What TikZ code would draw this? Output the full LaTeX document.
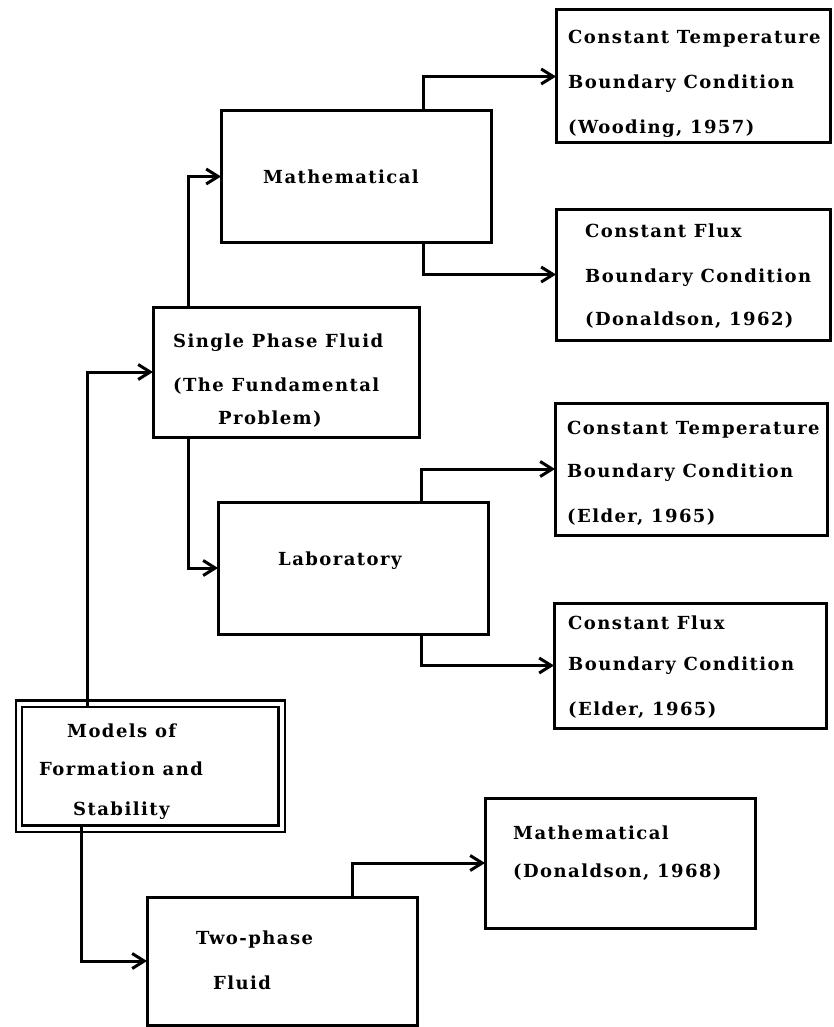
\documentclass[tikz,border=0pt]{standalone}
\usepackage{fontspec}
\newfontfamily\tf[LetterSpace=8]{DejaVu Serif}
\usetikzlibrary{arrows.meta}
\begin{document}
\begin{tikzpicture}[x=1pt,y=-1pt,
  box/.style={draw, line width=3pt, rectangle, inner sep=0pt, outer sep=0pt},
  dbox/.style={draw, line width=2.3pt, double, double distance=4pt, rectangle, inner sep=0pt, outer sep=0pt},
  txt/.style={anchor=base west, inner sep=0pt, font=\tf\bfseries\fontsize{18}{21}\selectfont},
  arr/.style={line width=3pt, -{Straight Barb[length=12pt,width=15pt,line width=3pt]}}]
\useasboundingbox (0,0) rectangle (834,1027);

% boxes
\node[box, minimum width=270pt, minimum height=131pt] (math) at (356,176.5) {};
\node[box, minimum width=274pt, minimum height=133pt] (ct1) at (693,76.5) {};
\node[box, minimum width=274pt, minimum height=131pt] (cf1) at (693,274.5) {};
\node[box, minimum width=266pt, minimum height=130pt] (spf) at (286,372) {};
\node[box, minimum width=272pt, minimum height=132pt] (ct2) at (691,469) {};
\node[box, minimum width=270pt, minimum height=132pt] (lab) at (353,568) {};
\node[box, minimum width=272pt, minimum height=125pt] (cf2) at (690,665.5) {};
\node[dbox, minimum width=262.5pt, minimum height=125pt] (models) at (150.25,766) {};
\node[box, minimum width=270pt, minimum height=128pt] (two) at (282,961) {};
\node[box, minimum width=270pt, minimum height=130pt] (m68) at (620,863) {};

% texts
\node[txt] (tmath) at (263,183) {Mathematical};
\node[txt] (tct1a) at (568,44) {Constant Temperature};
\node[txt] (tct1b) at (568,89) {Boundary Condition};
\node[txt] (tct1c) at (568,134) {(Wooding, 1957)};
\node[txt] (tcf1a) at (585,237) {Constant Flux};
\node[txt] (tcf1b) at (585,282) {Boundary Condition};
\node[txt] (tcf1c) at (585,325) {(Donaldson, 1962)};
\node[txt] (tspfa) at (173,347) {Single Phase Fluid};
\node[txt] (tspfb) at (173,391) {(The Fundamental};
\node[txt] (tspfc) at (218,424) {Problem)};
\node[txt] (tct2a) at (567,434) {Constant Temperature};
\node[txt] (tct2b) at (567,477) {Boundary Condition};
\node[txt] (tct2c) at (567,522) {(Elder, 1965)};
\node[txt] (tlab) at (278,565) {Laboratory};
\node[txt] (tcf2a) at (568,629) {Constant Flux};
\node[txt] (tcf2b) at (568,670) {Boundary Condition};
\node[txt] (tcf2c) at (568,715) {(Elder, 1965)};
\node[txt] (tmoda) at (67,737) {Models of};
\node[txt] (tmodb) at (39,775) {Formation and};
\node[txt] (tmodc) at (73,815) {Stability};
\node[txt] (ttwoa) at (196,944) {Two-phase};
\node[txt] (ttwob) at (213,989) {Fluid};
\node[txt] (tm68a) at (513,839) {Mathematical};
\node[txt] (tm68b) at (513,877) {(Donaldson, 1968)};

% connector columns
\coordinate (c1) at (188,0);
\coordinate (c2) at (423,0);
\coordinate (c3) at (421,0);
\coordinate (c4) at (87,0);
\coordinate (c5) at (81,0);
\coordinate (c6) at (352,0);

% connectors
\draw[arr] (spf.north -| c1) |- (math.west);
\draw[arr] (spf.south -| c1) |- (lab.west);
\draw[arr] (math.north -| c2) |- (ct1.west);
\draw[arr] (math.south -| c2) |- (cf1.west);
\draw[arr] (lab.north -| c3) |- (ct2.west);
\draw[arr] (lab.south -| c3) |- (cf2.west);
\draw[arr] ([yshift=-3.2pt]models.north -| c4) |- (spf.west);
\draw[arr] ([yshift=3.2pt]models.south -| c5) |- (two.west);
\draw[arr] (two.north -| c6) |- (m68.west);
\end{tikzpicture}
\end{document}
